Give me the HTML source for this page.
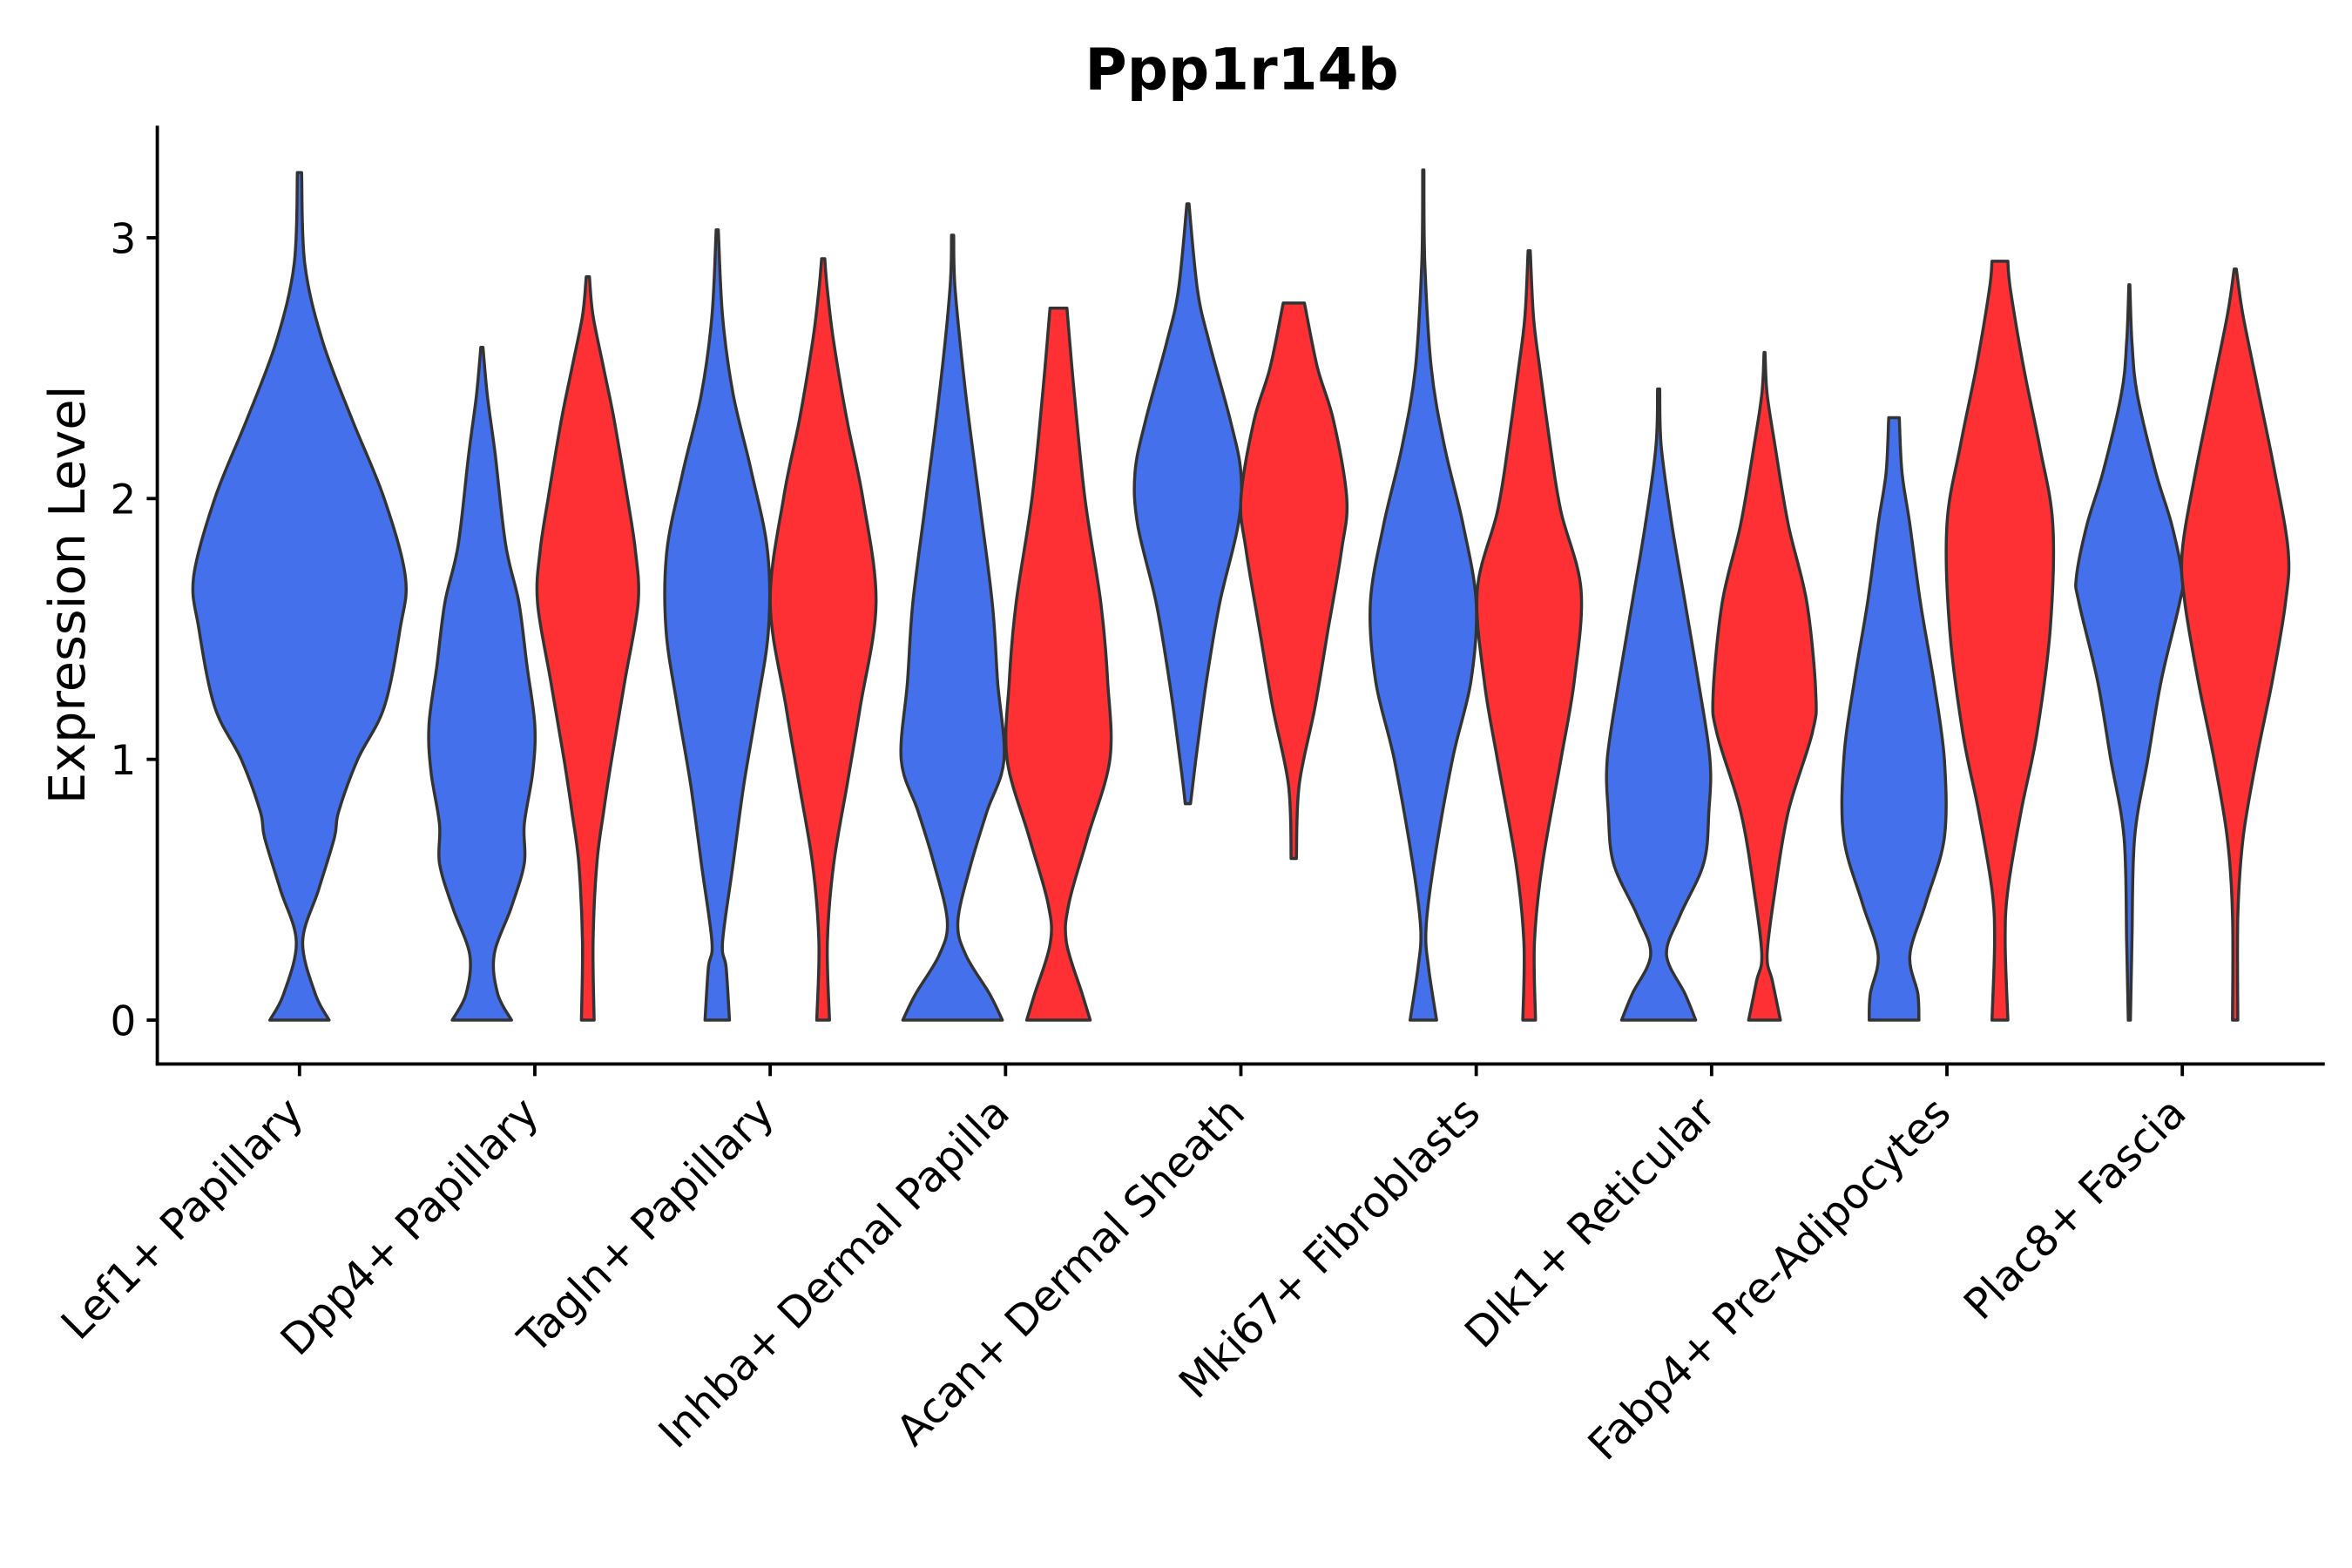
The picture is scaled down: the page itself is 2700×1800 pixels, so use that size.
<!DOCTYPE html>
<html><head><meta charset="utf-8"><style>html,body{margin:0;padding:0;background:#fff}svg{display:block}</style></head>
<body>
<svg id="chart" width="2700" height="1800" viewBox="0 0 1555 1036" preserveAspectRatio="none" xmlns="http://www.w3.org/2000/svg" font-family="'DejaVu Sans','Liberation Sans',sans-serif">
<rect width="1555" height="1036" fill="#fff"/>
<text x="821" y="59" text-anchor="middle" font-size="38" font-weight="bold">Ppp1r14b</text>
<text transform="translate(56,393) rotate(-90)" text-anchor="middle" font-size="33">Expression Level</text>
<g id="violins"></g>
<g id="axes"></g>
</svg>
<script>
const categories = ["Lef1+ Papillary","Dpp4+ Papillary","Tagln+ Papillary","Inhba+ Dermal Papilla","Acan+ Dermal Sheath","Mki67+ Fibroblasts","Dlk1+ Reticular","Fabp4+ Pre-Adipocytes","Plac8+ Fascia"];
const yTicks = [0,1,2,3];
// each violin: category index, group (0 blue,1 red, -1 single), profile of [value, relative width]
const violinCats = [0,1,1,2,2,3,3,4,4,5,5,6,6,7,7,8,8];
const violinGroups = [-1,0,1,0,1,0,1,0,1,0,1,0,1,0,1,0,1];
const violinProfiles = [
 [[0,0.28],[0.1,0.15],[0.3,0.03],[0.5,0.18],[0.7,0.33],[0.8,0.37],[1.0,0.55],[1.2,0.8],[1.5,0.95],[1.7,1.0],[2.0,0.8],[2.3,0.5],[2.6,0.22],[2.9,0.05],[3.25,0.02]],
 [[0,0.56],[0.1,0.3],[0.25,0.23],[0.43,0.55],[0.6,0.8],[0.75,0.8],[0.95,0.96],[1.13,1.0],[1.36,0.85],[1.6,0.7],[1.82,0.45],[2.17,0.25],[2.4,0.1],[2.58,0.02]],
 [[0,0.12],[0.3,0.1],[0.6,0.17],[0.8,0.3],[1.0,0.45],[1.3,0.7],[1.6,0.95],[1.8,0.9],[2.0,0.75],[2.3,0.5],[2.5,0.3],[2.7,0.1],[2.85,0.03]],
 [[0,0.23],[0.2,0.17],[0.3,0.1],[0.6,0.3],[0.9,0.5],[1.2,0.75],[1.5,0.97],[1.8,0.95],[2.1,0.65],[2.4,0.3],[2.7,0.1],[3.03,0.02]],
 [[0,0.12],[0.3,0.08],[0.6,0.2],[0.9,0.45],[1.2,0.7],[1.6,1.0],[2.0,0.75],[2.3,0.45],[2.6,0.2],[2.8,0.08],[2.92,0.03]],
 [[0,0.94],[0.1,0.7],[0.25,0.25],[0.38,0.1],[0.6,0.35],[0.8,0.65],[1.0,0.97],[1.3,0.85],[1.6,0.75],[2.0,0.5],[2.4,0.25],[2.8,0.05],[3.01,0.02]],
 [[0,0.6],[0.1,0.45],[0.3,0.15],[0.45,0.2],[0.7,0.55],[1.0,0.97],[1.3,0.93],[1.6,0.8],[2.0,0.5],[2.4,0.3],[2.73,0.16]],
 [[0.83,0.05],[1.0,0.15],[1.3,0.35],[1.6,0.6],[1.9,0.95],[2.1,1.0],[2.3,0.8],[2.6,0.4],[2.8,0.18],[3.13,0.02]],
 [[0.62,0.05],[0.9,0.1],[1.2,0.4],[1.5,0.65],[1.8,0.9],[2.0,1.0],[2.3,0.75],[2.5,0.45],[2.75,0.2]],
 [[0,0.25],[0.2,0.1],[0.35,0.05],[0.6,0.2],[1.0,0.55],[1.3,0.9],[1.6,1.0],[1.9,0.75],[2.2,0.4],[2.5,0.15],[2.9,0.03],[3.26,0.01]],
 [[0,0.12],[0.3,0.1],[0.6,0.25],[1.0,0.6],[1.3,0.85],[1.65,0.98],[1.95,0.6],[2.2,0.4],[2.5,0.2],[2.7,0.08],[2.95,0.02]],
 [[0,0.7],[0.1,0.5],[0.25,0.15],[0.4,0.4],[0.6,0.85],[0.8,0.95],[1.0,0.97],[1.3,0.75],[1.6,0.5],[1.9,0.25],[2.2,0.05],[2.42,0.02]],
 [[0,0.3],[0.15,0.15],[0.25,0.05],[0.5,0.2],[0.8,0.45],[1.1,0.9],[1.25,0.97],[1.6,0.8],[1.9,0.45],[2.2,0.2],[2.4,0.05],[2.56,0.01]],
 [[0,0.47],[0.1,0.45],[0.25,0.3],[0.45,0.6],[0.7,0.95],[1.0,0.95],[1.3,0.75],[1.6,0.5],[1.9,0.3],[2.1,0.15],[2.31,0.1]],
 [[0,0.15],[0.3,0.1],[0.5,0.15],[0.8,0.4],[1.1,0.7],[1.5,0.95],[1.9,1.0],[2.2,0.75],[2.5,0.45],[2.8,0.2],[2.91,0.15]],
 [[0,0.02],[0.3,0.05],[0.7,0.1],[1.0,0.35],[1.3,0.6],[1.6,0.95],[1.7,1.0],[1.9,0.8],[2.1,0.5],[2.4,0.15],[2.6,0.05],[2.82,0.01]],
 [[0,0.05],[0.4,0.05],[0.7,0.15],[1.0,0.4],[1.3,0.7],[1.6,0.95],[1.8,1.0],[2.1,0.75],[2.4,0.45],[2.7,0.15],[2.88,0.02]]
];
const groupColors = ["#4470EC","#FF3033","#4470EC"];

const NS="http://www.w3.org/2000/svg";
const plotL=104, plotR=1537, axisY=703, axisTop=83;
function yScale(v){return 674 - v*172.3;}
function xScale(i){return 198 + i*155.6;}

function smoothPath(pts){
  let d="";
  for(let i=0;i<pts.length-1;i++){
    const p0=pts[Math.max(0,i-1)],p1=pts[i],p2=pts[i+1],p3=pts[Math.min(pts.length-1,i+2)];
    const c1=[p1[0]+(p2[0]-p0[0])/6,p1[1]+(p2[1]-p0[1])/6];
    const c2=[p2[0]-(p3[0]-p1[0])/6,p2[1]-(p3[1]-p1[1])/6];
    d+=` C${c1[0].toFixed(1)},${c1[1].toFixed(1)} ${c2[0].toFixed(1)},${c2[1].toFixed(1)} ${p2[0].toFixed(1)},${p2[1].toFixed(1)}`;
  }
  return d;
}
const vg=document.getElementById('violins');
violinProfiles.forEach((prof,k)=>{
  const g=violinGroups[k];
  const cx=xScale(violinCats[k]) + (g<0?0:(g===0?-35:35));
  const half=g<0?70:35;
  const right=prof.map(p=>[cx+p[1]*half,yScale(p[0])]);
  const left=prof.slice().reverse().map(p=>[cx-p[1]*half,yScale(p[0])]);
  let d=`M${left[left.length-1][0].toFixed(1)},${left[left.length-1][1].toFixed(1)} L${right[0][0].toFixed(1)},${right[0][1].toFixed(1)}`;
  d+=smoothPath(right);
  d+=` L${left[0][0].toFixed(1)},${left[0][1].toFixed(1)}`;
  d+=smoothPath(left)+" Z";
  const path=document.createElementNS(NS,'path');
  path.setAttribute('d',d);
  path.setAttribute('fill',groupColors[g<0?2:g]);
  path.setAttribute('stroke','#333');
  path.setAttribute('stroke-width','2');
  path.setAttribute('stroke-linejoin','round');
  
  
  vg.appendChild(path);
});
const ag=document.getElementById('axes');
function line(x1,y1,x2,y2,name){
  const l=document.createElementNS(NS,'line');
  l.setAttribute('x1',x1);l.setAttribute('y1',y1);l.setAttribute('x2',x2);l.setAttribute('y2',y2);
  l.setAttribute('stroke','#000');l.setAttribute('stroke-width','2.2');
  
  
  ag.appendChild(l);
}
line(plotL,axisTop,plotL,axisY+1,'y-axis-line');
line(plotL-1,axisY,plotR,axisY,'x-axis-line');
yTicks.forEach(t=>{
  const y=yScale(t);
  line(plotL-7,y,plotL,y,'y-tick');
  const tx=document.createElementNS(NS,'text');
  tx.setAttribute('x',plotL-14);tx.setAttribute('y',y+10);
  tx.setAttribute('text-anchor','end');tx.setAttribute('font-size','27');
  tx.textContent=t;
  
  
  ag.appendChild(tx);
});
categories.forEach((c,i)=>{
  const x=xScale(i);
  line(x,axisY,x,axisY+8,'x-tick');
  const tx=document.createElementNS(NS,'text');
  tx.setAttribute('transform',`translate(${x+4},${axisY+34}) rotate(-45)`);
  tx.setAttribute('text-anchor','end');tx.setAttribute('font-size','28');
  tx.textContent=c;
  
  
  ag.appendChild(tx);
});
</script>
</body></html>
